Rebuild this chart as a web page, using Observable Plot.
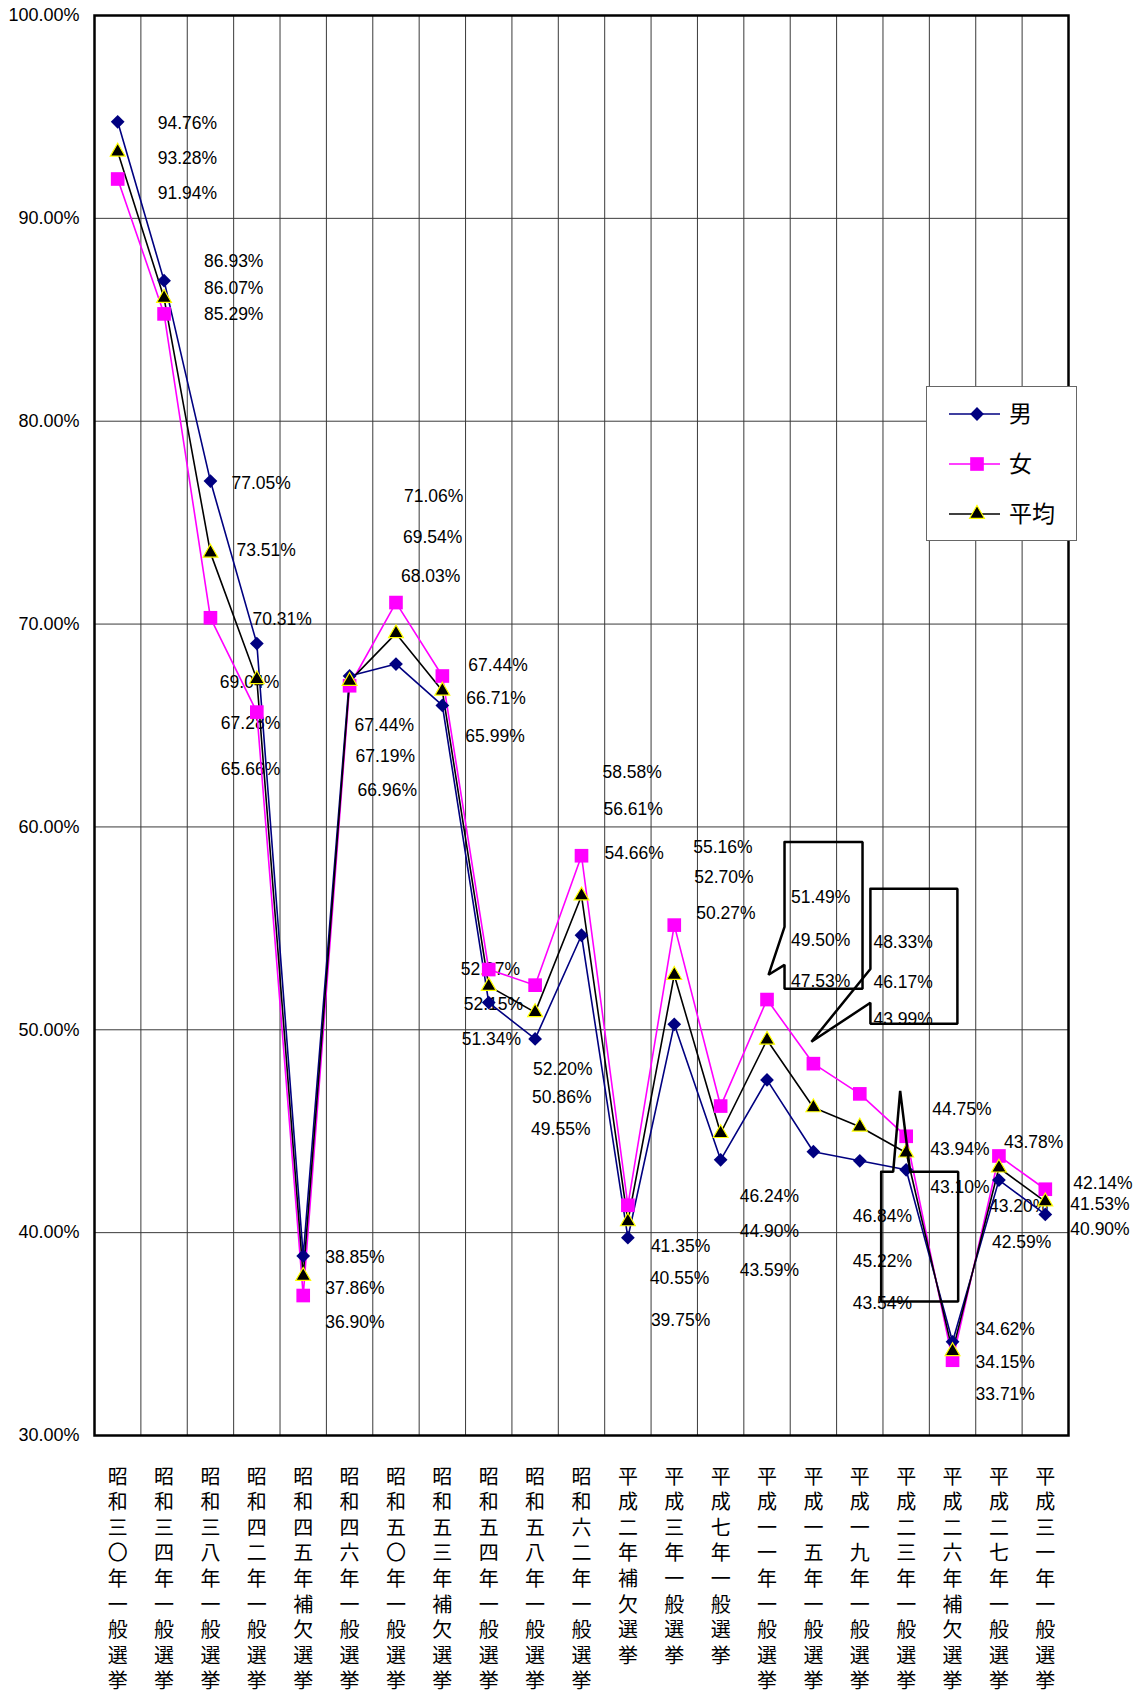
<!DOCTYPE html>
<html><head><meta charset="utf-8">
<script src="https://cdn.jsdelivr.net/npm/d3@7"></script>
<script src="https://cdn.jsdelivr.net/npm/@observablehq/plot@0.6"></script>
<style>
body{margin:0;background:#fff;}
#wrap{position:relative;width:1137px;height:1691px;overflow:hidden;background:#fff;}
#legend{position:absolute;left:926px;top:386px;width:151px;height:155px;background:#fff;border:1.5px solid #666;box-sizing:border-box;}
</style></head><body><div id="wrap"></div>
<script>
// ---- data ----
const elections = [
  "昭和三〇年一般選挙","昭和三四年一般選挙","昭和三八年一般選挙","昭和四二年一般選挙",
  "昭和四五年補欠選挙","昭和四六年一般選挙","昭和五〇年一般選挙","昭和五三年補欠選挙",
  "昭和五四年一般選挙","昭和五八年一般選挙","昭和六二年一般選挙","平成二年補欠選挙",
  "平成三年一般選挙","平成七年一般選挙","平成一一年一般選挙","平成一五年一般選挙",
  "平成一九年一般選挙","平成二三年一般選挙","平成二六年補欠選挙","平成二七年一般選挙",
  "平成三一年一般選挙"];
const male    = [94.76,86.93,77.05,69.04,38.85,67.44,68.03,65.99,51.34,49.55,54.66,39.75,50.27,43.59,47.53,43.99,43.54,43.10,34.62,42.59,40.90];
const female  = [91.94,85.29,70.31,65.66,36.90,66.96,71.06,67.44,52.97,52.20,58.58,41.35,55.16,46.24,51.49,48.33,46.84,44.75,33.71,43.78,42.14];
const average = [93.28,86.07,73.51,67.28,37.86,67.19,69.54,66.71,52.15,50.86,56.61,40.55,52.70,44.90,49.50,46.17,45.22,43.94,34.15,43.20,41.53];
const seriesNames = ["男","女","平均"];
const yTicks = [30,40,50,60,70,80,90,100];

// ---- layout of the data labels (px offset of the label's left edge from the category centre, level in %) ----
const labelDx = [[40,40,40],[40,40,40],[21,26,42],[-37,-36,-36],[22,22,22],[5,6,8],[8,7,5],[26,24,23],
  [-28,-25,-27],[-2,-3,-4],[21,22,23],[23,22,23],[19,20,22],[19,19,19],[24,24,24],[60,60,60],
  [-7,-7,-7],[26,24,24],[23,23,23],[5,-10,-7],[28,25,25]];
const labelLevel = [[94.68,92.96,91.23],[87.88,86.55,85.27],[76.95,73.65,70.25],[67.14,65.12,62.86],
  [38.77,37.24,35.57],[65.02,63.50,61.82],[76.31,74.29,72.36],[67.98,66.35,64.48],[53.00,51.23,49.51],
  [48.03,46.65,45.07],[62.71,60.84,58.72],[39.31,37.73,35.67],[59.01,57.49,55.76],[41.77,40.05,38.13],
  [56.55,54.43,52.41],[54.29,52.32,50.49],[40.79,38.57,36.50],[46.06,44.09,42.22],[35.22,33.60,32.02],
  [44.43,41.28,39.51],[42.41,41.38,40.15]];
// callout shapes: category index, outline points [px offset from category centre, level in %]
const callouts = [
  {cat: 14, pts: [[17.5,59.26],[95.5,59.26],[95.5,52.02],[17.5,52.02],[17.5,53.20],[1.5,52.71],[17.5,55.07],[17.5,59.26]]},
  {cat: 15, pts: [[57,56.95],[144,56.95],[144,50.30],[57,50.30],[57,51.33],[-2,49.41],[57,53.00],[57,56.95]]},
  {cat: 17, pts: [[-25,43.00],[-13,43.00],[-6,46.99],[4,43.00],[52,43.00],[52,36.60],[-25,36.60],[-25,43.00]]}
];

// ---- build ----
const W = 1137, H = 1691, mL = 94, mR = 69, mT = 15, mB = 256;
const pxPerBand = (W - mL - mR) / elections.length;
const seriesValues = [male, female, average];
const colors = {"男": "#000080", "女": "#FF00FF", "平均": "#000000"};

const rows = [];
seriesNames.forEach((s, k) => elections.forEach((e, i) => rows.push({i, x: i + 0.5, election: e, series: s, value: seriesValues[k][i]})));

const labels = [];
elections.forEach((e, i) => {
  const vals = [male[i], female[i], average[i]].sort((a, b) => b - a);
  vals.forEach((v, j) => labels.push({x: i + 0.5 + labelDx[i][j] / pxPerBand, y: labelLevel[i][j], text: v.toFixed(2) + "%"}));
});

const calloutPts = [];
callouts.forEach((c, n) => c.pts.forEach(([dx, v]) => calloutPts.push({id: n, x: c.cat + 0.5 + dx / pxPerBand, y: v})));

const bandEdges = d3.range(0, elections.length + 1);

const plot = Plot.plot({
  width: W, height: H,
  marginLeft: mL, marginRight: mR, marginTop: mT, marginBottom: mB,
  style: {fontFamily: "'Liberation Sans', Arial, sans-serif", fontSize: "17px", color: "#000", background: "#fff"},
  x: {domain: [0, elections.length]},
  y: {domain: [30, 100]},
  marks: [
    Plot.ruleX(bandEdges, {stroke: "#3a3a3a", strokeWidth: 1}),
    Plot.ruleY(yTicks, {stroke: "#3a3a3a", strokeWidth: 1}),
    Plot.axisY({ticks: yTicks, tickFormat: d => d.toFixed(2) + "%", tickSize: 0, tickPadding: 15, label: null, fontSize: 18}),
    Plot.axisX({ticks: elections.map((_, i) => i + 0.5), tickFormat: v => elections[Math.floor(v)].split("").join("\n"),
      tickSize: 0, tickPadding: 30, lineHeight: 1.28, fontSize: 20, fontFamily: "'Noto Sans CJK JP', sans-serif", label: null}),
    Plot.text(labels, {x: "x", y: "y", text: "text", textAnchor: "start", lineAnchor: "middle", fontSize: 17.5, fill: "#000"}),
    Plot.line(rows, {x: "x", y: "value", z: "series", stroke: d => colors[d.series], strokeWidth: 1.6}),
    Plot.dot(rows.filter(d => d.series === "男"), {x: "x", y: "value", symbol: "diamond2", r: 6.2, fill: colors["男"], stroke: "none"}),
    Plot.dot(rows.filter(d => d.series === "女"), {x: "x", y: "value", symbol: "square", r: 7.7, fill: colors["女"], stroke: "none"}),
    Plot.dot(rows.filter(d => d.series === "平均"), {x: "x", y: "value", symbol: "triangle", r: 5.5, fill: "#000", stroke: "#FFFF00", strokeWidth: 1.2}),
    Plot.line(calloutPts, {x: "x", y: "y", z: "id", stroke: "#000", strokeWidth: 2.5, strokeLinejoin: "miter"}),
    Plot.frame({stroke: "#000", strokeWidth: 2.5})
  ]
});
const wrap = document.getElementById("wrap");
wrap.appendChild(plot);

// legend
const leg = document.createElement("div");
leg.id = "legend";
const ns = "http://www.w3.org/2000/svg";
const ls = document.createElementNS(ns, "svg");
ls.setAttribute("width", 148); ls.setAttribute("height", 152);
const symbols = {"男": d3.symbol(d3.symbolDiamond2, Math.PI * 6.2 * 6.2), "女": d3.symbol(d3.symbolSquare, Math.PI * 7.7 * 7.7), "平均": d3.symbol(d3.symbolTriangle, Math.PI * 5.5 * 5.5)};
seriesNames.forEach((s, k) => {
  const cy = 27 + k * 50;
  const line = document.createElementNS(ns, "line");
  line.setAttribute("x1", 22); line.setAttribute("x2", 73); line.setAttribute("y1", cy); line.setAttribute("y2", cy);
  line.setAttribute("stroke", colors[s]); line.setAttribute("stroke-width", 1.6);
  ls.appendChild(line);
  const p = document.createElementNS(ns, "path");
  p.setAttribute("d", symbols[s]());
  p.setAttribute("transform", `translate(50,${cy})`);
  if (s === "平均") { p.setAttribute("fill", "#000"); p.setAttribute("stroke", "#FFFF00"); p.setAttribute("stroke-width", 1.2); }
  else p.setAttribute("fill", colors[s]);
  ls.appendChild(p);
  const t = document.createElementNS(ns, "text");
  t.setAttribute("x", 82); t.setAttribute("y", cy); t.setAttribute("dy", "0.36em");
  t.setAttribute("font-size", 23); t.setAttribute("font-family", "'Noto Sans CJK JP', sans-serif");
  t.textContent = s;
  ls.appendChild(t);
});
leg.appendChild(ls);
wrap.appendChild(leg);
</script></body></html>
